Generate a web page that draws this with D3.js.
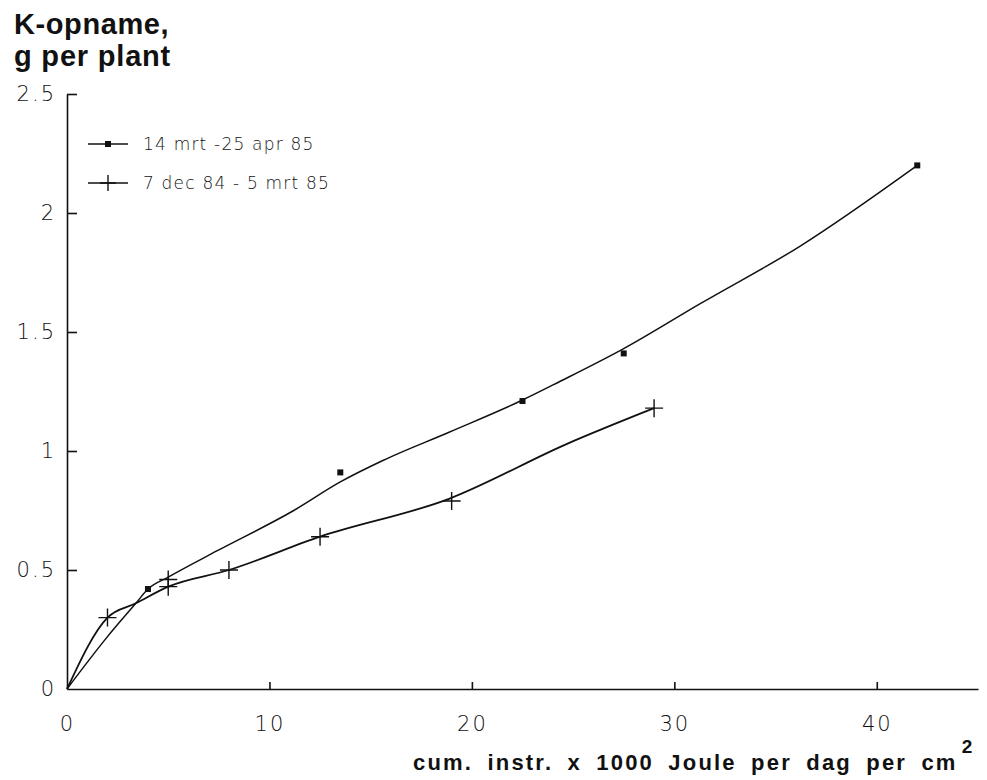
<!DOCTYPE html>
<html>
<head>
<meta charset="utf-8">
<script src="https://cdn.jsdelivr.net/npm/d3@7"></script>
<style>
  body { margin: 0; background: #fff; }
  svg { display: block; }
  .tick text { font-family: "DejaVu Sans", sans-serif; font-weight: 200; font-size: 21px; letter-spacing: 2px; fill: #111; }
  .title { font-family: "Liberation Sans", Arial, sans-serif; font-weight: bold; fill: #111; }
  .legend text { font-family: "DejaVu Sans", sans-serif; font-weight: 200; font-size: 17px; letter-spacing: 1.2px; fill: #111; }
</style>
</head>
<body>
<svg></svg>
<script>
var width = 987,
    height = 780

// measured points, 14 mrt - 25 apr 85 (dots)
var dotX = [4, 13.5, 22.5, 27.5, 42]
var dotY = [0.42, 0.91, 1.21, 1.41, 2.2]
// measured points, 7 dec 84 - 5 mrt 85 (crosses)
var crossX = [2, 5, 8, 12.5, 19, 29]
var crossY = [0.3, 0.43, 0.5, 0.64, 0.79, 1.18]
// extra cross on the upper curve at x=5
var extraCrossX = [5]
var extraCrossY = [0.46]

// hand drawn fitted curves
var curve1X = [0, 2, 3.4, 4, 5, 7.4, 11.2, 13.5, 15.6, 18.9, 22.4, 24.3, 27.5, 31.3, 36.2, 42]
var curve1Y = [0, 0.22, 0.36, 0.42, 0.47, 0.58, 0.75, 0.87, 0.96, 1.08, 1.21, 1.29, 1.43, 1.62, 1.86, 2.2]
var curve2X = [0, 2, 3.4, 5, 8, 12.5, 18.9, 24.7, 29]
var curve2Y = [0, 0.3, 0.36, 0.43, 0.5, 0.64, 0.8, 1.03, 1.18]

var xTicks = [0, 10, 20, 30, 40]
var yTicks = [0, 0.5, 1, 1.5, 2, 2.5]
var legendLabels = ["14 mrt -25 apr 85", "7 dec 84 - 5 mrt 85"]

var margin = { top: 94, left: 67, right: 9, bottom: 91 }

var x = d3.scaleLinear().domain([0, 45]).range([margin.left, width - margin.right])
var y = d3.scaleLinear().domain([0, 2.5]).range([height - margin.bottom, margin.top])

var svg = d3.select("svg").attr("width", width).attr("height", height)

function zip(a, b) { return a.map((v, i) => [v, b[i]]) }

// axes
var xAxis = svg.append("g")
    .attr("transform", "translate(0," + y(0) + ")")
    .call(d3.axisBottom(x).tickValues(xTicks).tickSizeInner(-7).tickSizeOuter(0).tickPadding(27).tickFormat(d => d))
var yAxis = svg.append("g")
    .attr("transform", "translate(" + x(0) + ",0)")
    .call(d3.axisLeft(y).tickValues(yTicks).tickSizeInner(-10).tickSizeOuter(0).tickPadding(11).tickFormat(d => d))
svg.selectAll(".domain, .tick line").attr("stroke", "#111").attr("stroke-width", 1.6)
yAxis.selectAll(".tick").filter(d => d === 0).select("line").remove()
xAxis.selectAll(".tick").filter(d => d === 0).select("line").remove()

// curves
var line = d3.line().x(d => x(d[0])).y(d => y(d[1])).curve(d3.curveMonotoneX)
svg.append("path").datum(zip(curve1X, curve1Y)).attr("d", line)
    .attr("fill", "none").attr("stroke", "#111").attr("stroke-width", 1.5)
svg.append("path").datum(zip(curve2X, curve2Y)).attr("d", line)
    .attr("fill", "none").attr("stroke", "#111").attr("stroke-width", 1.8)

// markers
svg.selectAll(".dot").data(zip(dotX, dotY)).enter().append("rect").attr("class", "dot")
    .attr("x", d => x(d[0]) - 3).attr("y", d => y(d[1]) - 3)
    .attr("width", 6).attr("height", 6).attr("fill", "#111")

function crossPath(cx, cy, s) {
    return "M" + (cx - s) + "," + cy + "H" + (cx + s) + "M" + cx + "," + (cy - s) + "V" + (cy + s)
}
svg.selectAll(".cross").data(zip(crossX, crossY).concat(zip(extraCrossX, extraCrossY))).enter()
    .append("path").attr("class", "cross")
    .attr("d", d => crossPath(x(d[0]), y(d[1]), 9))
    .attr("stroke", "#111").attr("stroke-width", 1.4)

// legend
var legend = svg.append("g").attr("class", "legend")
legendLabels.forEach(function(lbl, i) {
    var ly = 144 + i * 39
    legend.append("line").attr("x1", 88).attr("x2", 128).attr("y1", ly).attr("y2", ly)
        .attr("stroke", "#111").attr("stroke-width", 1.6)
    if (i === 0) {
        legend.append("rect").attr("x", 105).attr("y", ly - 3).attr("width", 6).attr("height", 6).attr("fill", "#111")
    } else {
        legend.append("path").attr("d", crossPath(108, ly, 8)).attr("stroke", "#111").attr("stroke-width", 1.4)
    }
    legend.append("text").attr("x", 143).attr("y", ly + 6).text(lbl)
})

// titles
svg.append("text").attr("class", "title").attr("x", 14).attr("y", 34)
    .style("font-size", "29px").style("letter-spacing", "0.6px").text("K-opname,")
svg.append("text").attr("class", "title").attr("x", 14).attr("y", 66)
    .style("font-size", "29px").style("letter-spacing", "0.8px").text("g per plant")

var xt = svg.append("text").attr("class", "title").attr("x", 413).attr("y", 770)
    .style("font-size", "22px").style("letter-spacing", "2.2px").style("word-spacing", "6px")
xt.append("tspan").text("cum. instr. x 1000 Joule per dag per cm")
xt.append("tspan").attr("dy", -17).attr("dx", 4).style("font-size", "19px").text("2")
</script>
</body>
</html>
